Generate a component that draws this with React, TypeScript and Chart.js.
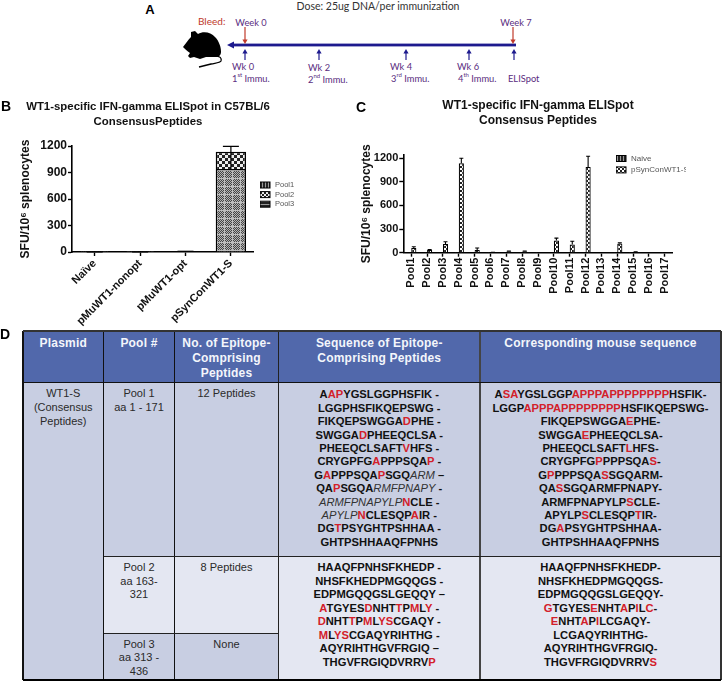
import React, { useEffect, useRef } from "react";
import { Chart, registerables } from "chart.js";

Chart.register(...registerables);

const FONT = '"Liberation Sans", Arial, sans-serif';

// Panel B data
const groupsB = ["Naïve", "pMuWT1-nonopt", "pMuWT1-opt", "pSynConWT1-S"];
const pool1B = [1, 1, 6, 940];
const pool2B = [0, 0, 2, 195];
const pool3B = [0, 0, 0, 0];
const errorTopB = [1, 1, 8, 1195];
const errorBottomB = [1, 1, 8, 940];
const legendB = ["Pool1", "Pool2", "Pool3"];
const ticksY = [0, 300, 600, 900, 1200];

// Panel C data
const poolsC = ["Pool1", "Pool2", "Pool3", "Pool4", "Pool5", "Pool6", "Pool7", "Pool8", "Pool9", "Pool10", "Pool11", "Pool12", "Pool13", "Pool14", "Pool15", "Pool16", "Pool17"];
const naiveC = [2, 1, 2, 1, 2, 1, 3, 2, 1, 2, 3, 2, 0, 1, 1, 0, 1];
const synConC = [60, 35, 110, 1135, 35, 3, 15, 15, 2, 155, 105, 1090, 0, 115, 8, 0, 2];
const synConTopC = [75, 40, 140, 1200, 60, 4, 20, 20, 3, 185, 145, 1225, 0, 125, 10, 0, 3];
const legendC = ["Naive", "pSynConWT1-S"];

// Panel D data: [x] = red residue, {x} = italic residue
const seqPool1 = ["A[AP]YGSLGGPHSFIK -", "LGGPHSFIKQEPSWG -", "FIKQEPSWGGA[D]PHE -", "SWGGA[D]PHEEQCLSA -", "PHEEQCLSAFT[V]HFS -", "CRYGPFG[A]PPPSQA[P] -", "G[A]PPPSQA[P]SGQ{ARM} –", "QA[P]SGQA{RMFPNAPY} -", "{ARMFPNAPYLP}[N]CLE -", "{APYLP}[N]CLESQP[A]IR -", "DG[T]PSYGHTPSHHAA -", "GHTPSHHAAQFPNHS"];
const mousePool1 = ["A[SA]YGSLGGP[APPPAPPPPPPPP]HSFIK-", "LGGP[APPPAPPPPPPPP]HSFIKQEPSWG-", "FIKQEPSWGGA[E]PHE-", "SWGGA[E]PHEEQCLSA-", "PHEEQCLSAFT[L]HFS-", "CRYGPFG[P]PPPSQA[S]-", "G[P]PPPSQA[S]SGQARM-", "QA[S]SGQARMFPNAPY-", "ARMFPNAPYLP[S]CLE-", "APYLP[S]CLESQP[T]IR-", "DG[A]PSYGHTPSHHAA-", "GHTPSHHAAQFPNHS"];
const seqPool2 = ["HAAQFPNHSFKHEDP -", "NHSFKHEDPMGQQGS -", "EDPMGQQGSLGEQQY –", "[A]TGYES[D]NHT[T]P[M]L[Y] -", "[D]NHT[T]P[M]L[YS]CGAQY -", "[M]L[YS]CGAQYRIHTHG -", "AQYRIHTHGVFRGIQ –", "THGVFRGIQDVRRV[P]"];
const mousePool2 = ["HAAQFPNHSFKHEDP-", "NHSFKHEDPMGQQGS-", "EDPMGQQGSLGEQQY-", "[G]TGYES[E]NHT[A]P[I]L[C]-", "[E]NHT[A]P[I]LCGAQY-", "LCGAQYRIHTHG-", "AQYRIHTHGVFRGIQ-", "THGVFRGIQDVRRV[S]"];

function tile(size: number, paint: (c: CanvasRenderingContext2D) => void): CanvasPattern {
  const cv = document.createElement("canvas");
  cv.width = size;
  cv.height = size;
  const c = cv.getContext("2d")!;
  paint(c);
  return document.createElement("canvas").getContext("2d")!.createPattern(cv, "repeat")!;
}
function checker(cell: number, dark: string, light: string) {
  return tile(cell * 2, (c) => {
    c.fillStyle = dark;
    c.fillRect(0, 0, cell * 2, cell * 2);
    c.fillStyle = light;
    c.fillRect(0, 0, cell, cell);
    c.fillRect(cell, cell, cell, cell);
  });
}
function finePattern() {
  return tile(8, (c) => {
    for (let y = 0; y < 8; y++) for (let x = 0; x < 8; x++) {
      c.fillStyle = (x + y) % 2 ? "#444" : "#b4b4b4";
      if (x === 0 || y === 0) c.fillStyle = "#bdbdbd";
      c.fillRect(x, y, 1, 1);
    }
  });
}
function stripes(vertical: boolean) {
  return tile(3, (c) => {
    c.fillStyle = "#222";
    c.fillRect(0, 0, 3, 3);
    c.fillStyle = "#999";
    if (vertical) c.fillRect(1, 0, 1, 3);
    else c.fillRect(0, 1, 3, 1);
  });
}

const errorBarsPlugin = {
  id: "errorBars",
  afterDatasetsDraw(chart: any, _a: any, o: any) {
    const { ctx, scales } = chart;
    const meta = chart.getDatasetMeta(o.dataset);
    ctx.save();
    ctx.strokeStyle = "#000";
    ctx.lineWidth = o.width;
    meta.data.forEach((bar: any, i: number) => {
      if (!o.tops[i]) return;
      const top = scales.y.getPixelForValue(o.tops[i]);
      const bottom = scales.y.getPixelForValue(o.bottoms ? o.bottoms[i] : chart.data.datasets[o.dataset].data[i]);
      ctx.beginPath();
      ctx.moveTo(bar.x, bottom);
      ctx.lineTo(bar.x, top);
      ctx.moveTo(bar.x - o.cap / 2, top);
      ctx.lineTo(bar.x + o.cap / 2, top);
      ctx.stroke();
    });
    ctx.restore();
  },
};

const sideLegendPlugin = {
  id: "sideLegend",
  afterDraw(chart: any, _a: any, o: any) {
    const { ctx } = chart;
    ctx.save();
    ctx.beginPath();
    ctx.rect(o.x, o.y - 8, o.clipW, 200);
    ctx.clip();
    chart.data.datasets.forEach((d: any, i: number) => {
      const y = o.y + i * o.step;
      ctx.fillStyle = o.swatches ? o.swatches[i] : d.backgroundColor;
      ctx.fillRect(o.x, y - 3, 10, 6);
      ctx.strokeStyle = "#000";
      ctx.lineWidth = 1;
      ctx.strokeRect(o.x, y - 3, 10, 6);
      ctx.fillStyle = "#555";
      ctx.font = `${o.size}px ${FONT}`;
      ctx.textBaseline = "middle";
      ctx.textAlign = "left";
      ctx.fillText(d.label, o.x + o.gap, y);
    });
    ctx.restore();
  },
};

function baseScales(yWidth: number, xHeight: number, rightGap: number, yMax: number, tickSize: number, titlePad: number, xFont: number, rot: number) {
  return {
    x: {
      stacked: false,
      afterFit(s: any) { s.height = xHeight; },
      border: { color: "#000", width: 1.6 },
      grid: { offset: false, drawOnChartArea: false, drawTicks: true, tickLength: 4, tickColor: "#000", tickWidth: 1.4 },
      ticks: { color: "#111", font: { family: FONT, size: xFont, weight: "bold" }, minRotation: rot, maxRotation: rot, padding: 1, autoSkip: false },
    },
    y: {
      min: 0,
      max: yMax,
      afterFit(s: any) { s.width = yWidth; },
      afterBuildTicks(s: any) { s.ticks = ticksY.map((value) => ({ value })); },
      border: { color: "#000", width: 1.6 },
      grid: { drawOnChartArea: false, drawTicks: true, tickLength: 4, tickColor: "#000", tickWidth: 1.4 },
      ticks: { color: "#111", font: { family: FONT, size: tickSize, weight: "bold" }, padding: 1, callback: (v: any) => String(v) },
      title: { display: true, text: "SFU/10⁶ splenocytes", color: "#111", font: { family: FONT, size: 12, weight: "bold" }, padding: { top: titlePad, bottom: 0 } },
    },
    spacer: {
      position: "right",
      afterFit(s: any) { s.width = rightGap; },
      border: { display: false },
      grid: { display: false },
      ticks: { display: false },
    },
  };
}

function PanelB() {
  const ref = useRef<HTMLCanvasElement>(null);
  useEffect(() => {
    const scales: any = baseScales(72, 80, 42.4, 1200, 12, 18, 11, 45);
    scales.x.stacked = true;
    scales.y.stacked = true;
    const p3 = stripes(false);
    const chart = new Chart(ref.current!, {
      type: "bar",
      data: {
        labels: groupsB,
        datasets: [
          { label: legendB[0], data: pool1B, backgroundColor: finePattern(), borderColor: "#000", borderWidth: 1.6, categoryPercentage: 1, barPercentage: 0.67 },
          { label: legendB[1], data: pool2B, backgroundColor: checker(3, "#222", "#eee"), borderColor: "#000", borderWidth: 1.6, categoryPercentage: 1, barPercentage: 0.67 },
          { label: legendB[2], data: pool3B, backgroundColor: p3, borderColor: "#000", borderWidth: 0, categoryPercentage: 1, barPercentage: 0.67 },
        ],
      } as any,
      options: {
        animation: false,
        responsive: false,
        plugins: {
          legend: { display: false },
          tooltip: { enabled: false },
          title: {
            display: true,
            text: ["WT1-specific IFN-gamma ELISpot in C57BL/6", "ConsensusPeptides"],
            color: "#111",
            font: { family: FONT, size: 11.4, weight: "bold", lineHeight: 1.25 },
            padding: { top: 2, bottom: 17.5 },
          },
          errorBars: { dataset: 0, tops: errorTopB, bottoms: errorBottomB, cap: 16, width: 1.2 },
          sideLegend: { x: 260, y: 87, step: 9.6, size: 7.5, gap: 15, clipW: 34, swatches: [stripes(true), checker(2, "#222", "#eee"), p3] },
        },
        scales,
      } as any,
      plugins: [errorBarsPlugin, sideLegendPlugin],
    });
    return () => chart.destroy();
  }, []);
  return <canvas ref={ref} width={296} height={234} style={{ position: "absolute", left: 0, top: 98, width: 296, height: 234 }} />;
}

function PanelC() {
  const ref = useRef<HTMLCanvasElement>(null);
  useEffect(() => {
    const scales: any = baseScales(45.3, 47.3, 45.3, 1242, 11, 1.5, 11, 90);
    const chart = new Chart(ref.current!, {
      type: "bar",
      data: {
        labels: poolsC,
        datasets: [
          { label: legendC[0], data: naiveC, backgroundColor: stripes(true), borderColor: "#000", borderWidth: 1, categoryPercentage: 0.65, barPercentage: 1 },
          { label: legendC[1], data: synConC, backgroundColor: checker(2, "#222", "#fff"), borderColor: "#000", borderWidth: 1.2, categoryPercentage: 0.65, barPercentage: 1 },
        ],
      } as any,
      options: {
        animation: false,
        responsive: false,
        plugins: {
          legend: { display: false },
          tooltip: { enabled: false },
          title: {
            display: true,
            text: ["WT1-specific IFN-gamma ELISpot", "Consensus Peptides"],
            color: "#111",
            font: { family: FONT, size: 12, weight: "bold", lineHeight: 1.18 },
            padding: { top: 1, bottom: 27.6 },
          },
          errorBars: { dataset: 1, tops: synConTopC, cap: 4, width: 1.1 },
          sideLegend: { x: 258, y: 60.5, step: 11.4, size: 8, gap: 15, clipW: 70 },
        },
        scales,
      } as any,
      plugins: [errorBarsPlugin, sideLegendPlugin],
    });
    return () => chart.destroy();
  }, []);
  return <canvas ref={ref} width={360} height={202} style={{ position: "absolute", left: 358, top: 98, width: 360, height: 202 }} />;
}

function Txt({ x, y, style, children, anchor = "center" }: any) {
  const tx = anchor === "center" ? "-50%" : "0";
  return (
    <div style={{ position: "absolute", left: x, top: y, transform: `translate(${tx},-50%)`, whiteSpace: "nowrap", lineHeight: 1, ...style }}>
      {children}
    </div>
  );
}

function parsePeptide(s: string) {
  const out: React.ReactNode[] = [];
  const re = /\[([^\]]+)\]|\{([^}]+)\}|([^\[{]+)/g;
  let m: RegExpExecArray | null;
  let k = 0;
  while ((m = re.exec(s))) {
    if (m[1]) out.push(<span key={k++} style={{ color: "#d3202a" }}>{m[1]}</span>);
    else if (m[2]) out.push(<span key={k++} style={{ fontStyle: "italic", fontWeight: 400, color: "#333" }}>{m[2]}</span>);
    else out.push(<span key={k++}>{m[3]}</span>);
  }
  return out;
}

function Peptides({ lines, x, y0, step }: any) {
  return lines.map((l: string, i: number) => (
    <Txt key={i} x={x} y={y0 + i * step} style={{ font: `bold 11.2px ${FONT}`, color: "#111" }}>{parsePeptide(l)}</Txt>
  ));
}

function Box({ x, y, w, h, bg }: any) {
  return <div style={{ position: "absolute", left: x, top: y, width: w, height: h, background: bg }} />;
}

const COLS = [23, 103.5, 174.5, 278.5, 480, 721];
const HEAD = "#5168ab";
const MID = "#c8cee2";
const LIGHT = "#e4e7f2";

function Table() {
  const head = { font: `bold 12px ${FONT}`, color: "#f4f6fb", letterSpacing: 0.2 };
  const body = { font: `11px ${FONT}`, color: "#2a2a2a" };
  const cx = (i: number) => (COLS[i] + COLS[i + 1]) / 2;
  const vline = (x: number, y1: number, y2: number, c = "#000", w = 1) => (
    <div style={{ position: "absolute", left: x - w / 2, top: y1, width: w, height: y2 - y1, background: c }} />
  );
  const hline = (x1: number, x2: number, y: number, c = "#000", w = 1) => (
    <div style={{ position: "absolute", left: x1, top: y - w / 2, width: x2 - x1, height: w, background: c }} />
  );
  return (
    <>
      <Box x={23} y={331} w={698} h={51} bg={HEAD} />
      <Box x={23} y={382} w={698} h={298} bg={MID} />
      <Box x={103.5} y={556} w={71 + 104} h={77} bg={LIGHT} />
      <Box x={278.5} y={556} w={442.5} h={124} bg={LIGHT} />
      {COLS.slice(1, 3).map((x) => <React.Fragment key={x}>{vline(x, 331, 680, "#111")}</React.Fragment>)}
      {vline(278.5, 331, 680, "#222")}
      {vline(480, 331, 680, "#444", 1.5)}
      {vline(23, 331, 680, "#111", 1.2)}
      {vline(721, 331, 680, "#333", 1.2)}
      {hline(23, 721, 331, "#333", 1.2)}
      {hline(23, 721, 382, "#111")}
      {hline(103.5, 721, 556, "#222")}
      {hline(103.5, 278.5, 633, "#222")}
      {hline(23, 721, 680, "#000", 1.4)}

      <Txt x={cx(0)} y={343} style={head}>Plasmid</Txt>
      <Txt x={cx(1)} y={343} style={head}>Pool #</Txt>
      <Txt x={cx(2)} y={343} style={head}>No. of Epitope-</Txt>
      <Txt x={cx(2)} y={358} style={head}>Comprising</Txt>
      <Txt x={cx(2)} y={373} style={head}>Peptides</Txt>
      <Txt x={cx(3)} y={343} style={head}>Sequence of Epitope-</Txt>
      <Txt x={cx(3)} y={358} style={head}>Comprising Peptides</Txt>
      <Txt x={cx(4)} y={343} style={head}>Corresponding mouse sequence</Txt>

      <Txt x={cx(0)} y={393} style={body}>WT1-S</Txt>
      <Txt x={cx(0)} y={407} style={body}>(Consensus</Txt>
      <Txt x={cx(0)} y={421} style={body}>Peptides)</Txt>
      <Txt x={cx(1)} y={393} style={body}>Pool 1</Txt>
      <Txt x={cx(1)} y={407} style={body}>aa 1 - 171</Txt>
      <Txt x={cx(2)} y={393} style={body}>12 Peptides</Txt>
      <Txt x={cx(1)} y={567} style={body}>Pool 2</Txt>
      <Txt x={cx(1)} y={581} style={body}>aa  163-</Txt>
      <Txt x={cx(1)} y={594} style={body}>321</Txt>
      <Txt x={cx(2)} y={567} style={body}>8 Peptides</Txt>
      <Txt x={cx(1)} y={644} style={body}>Pool 3</Txt>
      <Txt x={cx(1)} y={657} style={body}>aa 313 -</Txt>
      <Txt x={cx(1)} y={671} style={body}>436</Txt>
      <Txt x={cx(2)} y={644} style={body}>None</Txt>

      <Peptides lines={seqPool1} x={cx(3)} y0={394.3} step={13.4} />
      <Peptides lines={mousePool1} x={cx(4)} y0={394.3} step={13.4} />
      <Peptides lines={seqPool2} x={cx(3)} y0={567.3} step={13.5} />
      <Peptides lines={mousePool2} x={cx(4)} y0={567.3} step={13.5} />
    </>
  );
}

function Schedule() {
  const purple = "#5a2d80";
  const red = "#c0392b";
  const blue = "#1d1a8e";
  const f = { font: `9.3px Lato, sans-serif`, color: purple };
  const sup = { fontSize: 6, verticalAlign: "super", lineHeight: 0 } as const;
  const up = [245, 319, 406, 469, 514];
  const down = [245, 513];
  return (
    <>
      <svg width={723} height={95} style={{ position: "absolute", left: 0, top: 0 }}>
        <path
          fill="#000"
          d="M183 47 C186 43 188 40 191 37 L191 32 L195 31 L198 34 C203 31 211 32 215 37 C219 41 221 47 221 52 C221 55 219 57 215 57 L206 57 L200 59 L194 57 L190 58 L188 56 L190 53 C187 51 185 49 183 47 Z"
        />
        <path fill="none" stroke="#000" strokeWidth="1.3" d="M215 56 C220 56 222 58 221 61 C220 63 215 63 211 64 C207 65 203 66 199 67" />
        <rect x={233} y={43.6} width={283} height={2.8} fill={blue} />
        <polygon points="227,45 234,41.5 234,48.5" fill={blue} />
        {down.map((x) => (
          <g key={x}>
            <line x1={x} y1={27} x2={x} y2={41} stroke={red} strokeWidth={1.2} />
            <polygon points={`${x},44 ${x - 2.6},39.5 ${x + 2.6},39.5`} fill={red} />
          </g>
        ))}
        {up.map((x) => (
          <g key={x}>
            <line x1={x} y1={60} x2={x} y2={52} stroke={blue} strokeWidth={1.2} />
            <polygon points={`${x},49 ${x - 2.6},53.5 ${x + 2.6},53.5`} fill={blue} />
          </g>
        ))}
      </svg>
      <Txt x={150} y={9} style={{ font: `bold 13px ${FONT}`, color: "#000" }}>A</Txt>
      <Txt x={378} y={6} style={{ font: `10.5px Lato, sans-serif`, color: "#333" }}>Dose: 25ug DNA/per immunization</Txt>
      <Txt x={198} y={21} anchor="left" style={{ font: `10px Lato, sans-serif`, color: red }}>Bleed:</Txt>
      <Txt x={251} y={22} style={f}>Week 0</Txt>
      <Txt x={516} y={22} style={f}>Week 7</Txt>
      <Txt x={243} y={66} style={f}>Wk 0</Txt>
      <Txt x={319} y={67} style={f}>Wk 2</Txt>
      <Txt x={401} y={66} style={f}>Wk 4</Txt>
      <Txt x={468} y={66} style={f}>Wk 6</Txt>
      <Txt x={232} y={78} anchor="left" style={f}>1<span style={sup}>st</span> Immu.</Txt>
      <Txt x={308} y={79} anchor="left" style={f}>2<span style={sup}>nd</span> Immu.</Txt>
      <Txt x={391} y={78} anchor="left" style={f}>3<span style={sup}>rd</span> Immu.</Txt>
      <Txt x={458} y={78} anchor="left" style={f}>4<span style={sup}>th</span> Immu.</Txt>
      <Txt x={508} y={78} anchor="left" style={f}>ELISpot</Txt>
    </>
  );
}

export default function App() {
  const letter = { font: `bold 14px ${FONT}`, color: "#000" };
  return (
    <div style={{ position: "absolute", left: 0, top: 0, width: 723, height: 682, overflow: "hidden", background: "#fff" }}>
      <Schedule />
      <PanelB />
      <PanelC />
      <Table />
      <Txt x={6} y={106} style={letter}>B</Txt>
      <Txt x={361} y={107} style={letter}>C</Txt>
      <Txt x={5} y={334} style={letter}>D</Txt>
    </div>
  );
}
